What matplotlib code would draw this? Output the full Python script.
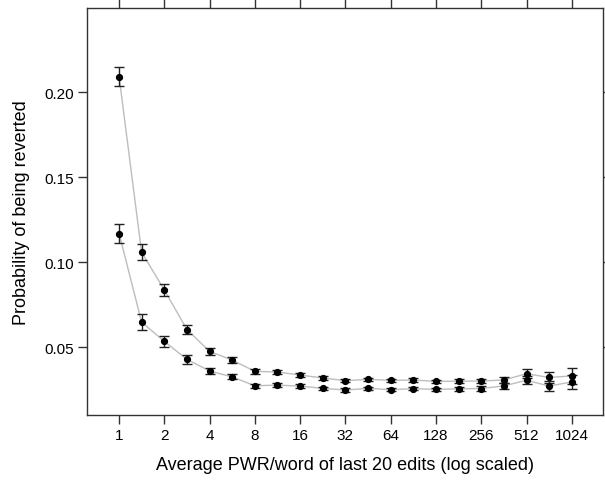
import matplotlib
matplotlib.use("Agg")
import matplotlib.pyplot as plt
import numpy as np

plt.rcParams["font.family"] = ["Liberation Sans", "DejaVu Sans"]

# Average PWR/word bins (half-doublings)
pwr = [1, 1.41, 2, 2.83, 4, 5.66, 8, 11.3, 16, 22.6, 32, 45.3, 64, 90.5,
       128, 181, 256, 362, 512, 724, 1024]

# upper curve
p_high = [0.2090, 0.1059, 0.0835, 0.0602, 0.0474, 0.0423, 0.0357, 0.0353,
          0.0335, 0.0318, 0.0302, 0.0310, 0.0304, 0.0306, 0.0298, 0.0299,
          0.0300, 0.0306, 0.0343, 0.0321, 0.0330]
err_high = [0.0056, 0.0045, 0.0035, 0.0027, 0.0020, 0.0017, 0.0013, 0.0012,
            0.0011, 0.0010, 0.0010, 0.0010, 0.0010, 0.0010, 0.0010, 0.0010,
            0.0012, 0.0015, 0.0025, 0.0030, 0.0045]

# lower curve
p_low = [0.1168, 0.0647, 0.0533, 0.0427, 0.0359, 0.0324, 0.0272, 0.0276,
         0.0270, 0.0257, 0.0247, 0.0257, 0.0249, 0.0255, 0.0251, 0.0254,
         0.0256, 0.0271, 0.0305, 0.0270, 0.0295]
err_low = [0.0055, 0.0045, 0.0035, 0.0025, 0.0020, 0.0015, 0.0012, 0.0011,
           0.0010, 0.0010, 0.0010, 0.0010, 0.0010, 0.0010, 0.0010, 0.0010,
           0.0012, 0.0015, 0.0022, 0.0030, 0.0040]

x_ticks = [1, 2, 4, 8, 16, 32, 64, 128, 256, 512, 1024]
y_ticks = [0.05, 0.10, 0.15, 0.20]

fig = plt.figure(figsize=(6.05, 4.81), dpi=100)
ax = fig.add_axes([87 / 605, 65 / 481, 516 / 605, 407 / 481])

for p, e in [(p_high, err_high), (p_low, err_low)]:
    ax.plot(pwr, p, color="#bdbdbd", lw=1, zorder=1)
    ax.errorbar(pwr, p, yerr=e, fmt="o", color="black", ms=4.2,
                ecolor="#222222", elinewidth=1, capsize=3.5, capthick=1, zorder=2)

ax.set_xscale("log", base=2)
ax.set_xlim(2 ** -0.71, 2 ** 10.69)
ax.set_ylim(0.0100, 0.2496)
ax.set_xticks(x_ticks)
ax.set_xticklabels([str(t) for t in x_ticks])
ax.xaxis.set_minor_locator(matplotlib.ticker.NullLocator())
ax.set_yticks(y_ticks)
ax.set_yticklabels(["%.2f" % t for t in y_ticks])

ax.tick_params(axis="both", which="both", direction="out", length=6.5,
               width=1, color="#333333", labelsize=11, pad=3,
               top=True, right=True, labeltop=False, labelright=False)
for s in ax.spines.values():
    s.set_color("#333333")
    s.set_linewidth(1)

ax.set_xlabel("Average PWR/word of last 20 edits (log scaled)", fontsize=13, labelpad=10)
ax.set_ylabel("Probability of being reverted", fontsize=13, labelpad=10)

fig.savefig("out.png", dpi=100)
